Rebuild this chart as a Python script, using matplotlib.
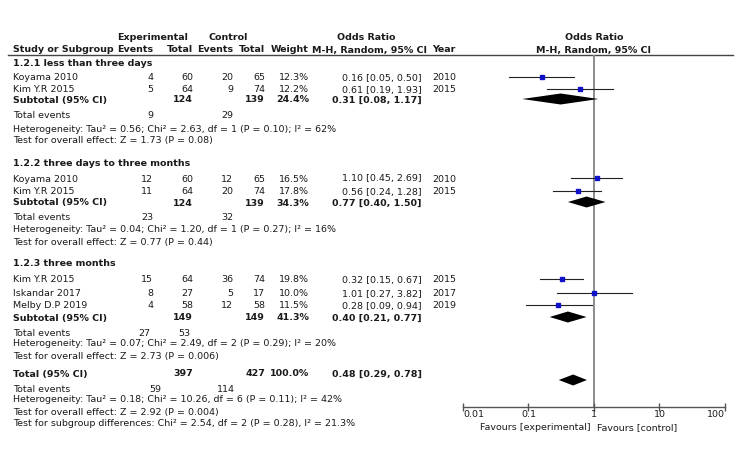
import numpy as np
import matplotlib.pyplot as plt

# study data
studies = ['Koyama 2010', 'Kim Y.R 2015', 'Koyama 2010', 'Kim Y.R 2015',
           'Kim Y.R 2015', 'Iskandar 2017', 'Melby D.P 2019']
exp_events = [4, 5, 12, 11, 15, 8, 4]
exp_total = [60, 64, 60, 64, 64, 27, 58]
ctl_events = [20, 9, 12, 20, 36, 5, 12]
ctl_total = [65, 74, 65, 74, 74, 17, 58]
weight = [12.3, 12.2, 16.5, 17.8, 19.8, 10.0, 11.5]
or_est = [0.16, 0.61, 1.10, 0.56, 0.32, 1.01, 0.28]
or_lo = [0.05, 0.19, 0.45, 0.24, 0.15, 0.27, 0.09]
or_hi = [0.50, 1.93, 2.69, 1.28, 0.67, 3.82, 0.94]
years = [2010, 2015, 2010, 2015, 2015, 2017, 2019]

# subgroups
groups = ['1.2.1 less than three days', '1.2.2 three days to three months', '1.2.3 three months']
sub_exp_total = [124, 124, 149]
sub_ctl_total = [139, 139, 149]
sub_weight = [24.4, 34.3, 41.3]
sub_or = [0.31, 0.77, 0.40]
sub_lo = [0.08, 0.40, 0.21]
sub_hi = [1.17, 1.50, 0.77]
sub_exp_events = [9, 23, 27]
sub_ctl_events = [29, 32, 53]
sub_het = ['Heterogeneity: Tau² = 0.56; Chi² = 2.63, df = 1 (P = 0.10); I² = 62%',
           'Heterogeneity: Tau² = 0.04; Chi² = 1.20, df = 1 (P = 0.27); I² = 16%',
           'Heterogeneity: Tau² = 0.07; Chi² = 2.49, df = 2 (P = 0.29); I² = 20%']
sub_test = ['Test for overall effect: Z = 1.73 (P = 0.08)',
            'Test for overall effect: Z = 0.77 (P = 0.44)',
            'Test for overall effect: Z = 2.73 (P = 0.006)']

# overall
tot_exp_total, tot_ctl_total, tot_weight = 397, 427, 100.0
tot_or, tot_lo, tot_hi = 0.48, 0.29, 0.78
tot_exp_events, tot_ctl_events = 59, 114
tot_het = 'Heterogeneity: Tau² = 0.18; Chi² = 10.26, df = 6 (P = 0.11); I² = 42%'
tot_test = 'Test for overall effect: Z = 2.92 (P = 0.004)'
tot_sub = 'Test for subgroup differences: Chi² = 2.54, df = 2 (P = 0.28), I² = 21.3%'

ticks = [0.01, 0.1, 1, 10, 100]
tick_labels = ['0.01', '0.1', '1', '10', '100']

# row positions (pixels from top)
grp_y = [62, 163, 262]
study_y = [77, 89, 178, 191, 279, 293, 305]
sub_y = [99, 202, 317]
ev_y = [114, 217, 332]
het_y = [128, 229, 343]
test_y = [139, 241, 355]
ev_x = [(153, 233), (153, 233), (150, 190)]

W, H = 750, 468
fs = 6.8
tc = '#1a1a1a'
fig = plt.figure(figsize=(7.5, 4.68), dpi=100)
bg = fig.add_axes([0, 0, 1, 1])
bg.set_xlim(0, W)
bg.set_ylim(H, 0)
bg.axis('off')

def t(x, y, s, ha='left', bold=False):
    bg.text(x, y + 3.5, s, ha=ha, va='baseline', fontsize=fs, color=tc,
            fontweight='bold' if bold else 'normal')

# headers
t(153, 36, 'Experimental', 'center', True)
t(228, 36, 'Control', 'center', True)
t(366, 36, 'Odds Ratio', 'center', True)
t(594, 36, 'Odds Ratio', 'center', True)
t(13, 49, 'Study or Subgroup', bold=True)
t(153, 49, 'Events', 'right', True)
t(193, 49, 'Total', 'right', True)
t(233, 49, 'Events', 'right', True)
t(265, 49, 'Total', 'right', True)
t(309, 49, 'Weight', 'right', True)
t(370, 49, 'M-H, Random, 95% CI', 'center', True)
t(432, 49, 'Year', bold=True)
t(594, 49, 'M-H, Random, 95% CI', 'center', True)
bg.plot([8, 733], [55, 55], color='#444444', lw=1.0)

for i in range(len(studies)):
    y = study_y[i]
    t(13, y, studies[i])
    t(153, y, str(exp_events[i]), 'right')
    t(193, y, str(exp_total[i]), 'right')
    t(233, y, str(ctl_events[i]), 'right')
    t(265, y, str(ctl_total[i]), 'right')
    t(309, y, f'{weight[i]:.1f}%', 'right')
    t(422, y, f'{or_est[i]:.2f} [{or_lo[i]:.2f}, {or_hi[i]:.2f}]', 'right')
    t(432, y, str(years[i]))

for g in range(len(groups)):
    t(13, grp_y[g], groups[g], bold=True)
    y = sub_y[g]
    t(13, y, 'Subtotal (95% CI)', bold=True)
    t(193, y, str(sub_exp_total[g]), 'right', True)
    t(265, y, str(sub_ctl_total[g]), 'right', True)
    t(309, y, f'{sub_weight[g]:.1f}%', 'right', True)
    t(422, y, f'{sub_or[g]:.2f} [{sub_lo[g]:.2f}, {sub_hi[g]:.2f}]', 'right', True)
    t(13, ev_y[g], 'Total events')
    t(ev_x[g][0], ev_y[g], str(sub_exp_events[g]), 'right')
    t(ev_x[g][1], ev_y[g], str(sub_ctl_events[g]), 'right')
    t(13, het_y[g], sub_het[g])
    t(13, test_y[g], sub_test[g])

t(13, 373, 'Total (95% CI)', bold=True)
t(193, 373, str(tot_exp_total), 'right', True)
t(265, 373, str(tot_ctl_total), 'right', True)
t(309, 373, f'{tot_weight:.1f}%', 'right', True)
t(422, 373, f'{tot_or:.2f} [{tot_lo:.2f}, {tot_hi:.2f}]', 'right', True)
t(13, 388, 'Total events')
t(161, 388, str(tot_exp_events), 'right')
t(235, 388, str(tot_ctl_events), 'right')
t(13, 399, tot_het)
t(13, 411, tot_test)
t(13, 423, tot_sub)

# forest panel
x0, x1, ytop, ybot = 463, 725, 55, 407
ax = fig.add_axes([x0 / W, 1 - ybot / H, (x1 - x0) / W, (ybot - ytop) / H])
ax.set_xscale('log')
ax.set_xlim(0.01, 100)
ax.set_ylim(ybot, ytop)
ax.patch.set_alpha(0)
for s in ['top', 'left', 'right']:
    ax.spines[s].set_visible(False)
ax.spines['bottom'].set_color('#555555')
ax.spines['bottom'].set_linewidth(1.0)
ax.set_yticks([])
ax.set_xticks(ticks)
ax.set_xticklabels(tick_labels)
ax.minorticks_off()
ax.tick_params(axis='x', direction='inout', length=6, width=1.0, color='#555555',
               labelsize=fs, labelcolor=tc, pad=-1)
lbls = ax.get_xticklabels()
lbls[0].set_ha('left')
lbls[-1].set_ha('right')
ax.axvline(1, color='#8c8c8c', lw=1.4, zorder=1)

for i in range(len(studies)):
    y = study_y[i]
    ax.plot([or_lo[i], or_hi[i]], [y, y], color='#222222', lw=0.8, zorder=2)
    ax.plot(or_est[i], y, 's', color='#1010c8', ms=0.7 * np.sqrt(weight[i]), zorder=3)

def diamond(est, lo, hi, y, h=5.5):
    ax.fill([lo, est, hi, est], [y, y - h, y, y + h], color='black', lw=0, zorder=3)

for g in range(len(groups)):
    diamond(sub_or[g], sub_lo[g], sub_hi[g], sub_y[g])
diamond(tot_or, tot_lo, tot_hi, 380)

t(591, 427, 'Favours [experimental]', 'right')
t(597, 427, 'Favours [control]')

fig.savefig('out.png', dpi=100)
